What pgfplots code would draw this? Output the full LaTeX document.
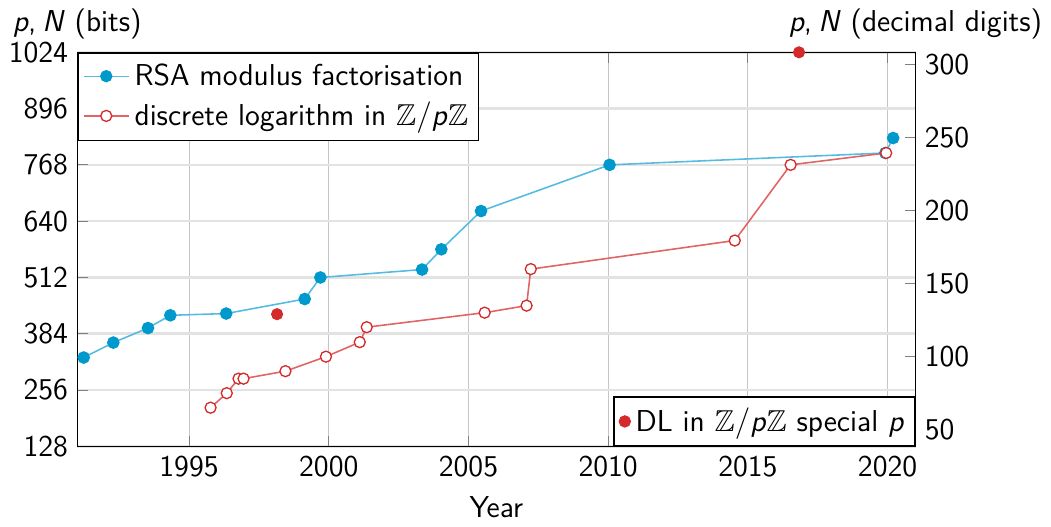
\documentclass[border=0pt]{standalone}
\usepackage{amsmath,amssymb}
\usepackage{pgfplots}
\pgfplotsset{compat=1.18}
\usepackage{xcolor}
\renewcommand{\familydefault}{\sfdefault}
\definecolor{rsadot}{HTML}{0099CC}
\definecolor{rsaline}{HTML}{55BBE0}
\definecolor{dldot}{HTML}{D42A2A}
\definecolor{dlline}{HTML}{E06464}
\newcommand{\ZpZ}{\(\mathbb{Z}/\)\textit{p}\(\mathbb{Z}\)}
\newcommand{\pN}{\textit{p},\kern0.2em\textit{N}}

\begin{document}
\begin{tikzpicture}
\pgfplotsset{
  common/.style={
    scale only axis,
    width=319pt, height=150pt,
    xmin=1991, xmax=2021,
    font=\fontsize{11.5}{13.5}\selectfont,
    /pgf/number format/assume math mode=true,
    /pgf/number format/1000 sep={},
    tick style={gray, thin},
    major tick length=4pt,
  },
}
\begin{axis}[
    common,
    ymin=128, ymax=1024,
    ytick={128,256,384,512,640,768,896,1024},
    xtick={1995,2000,2005,2010,2015,2020},
    ytick pos=left,
    xmajorgrids, ymajorgrids,
    x grid style={gray!45, line width=0.4pt},
    y grid style={gray!22, line width=1pt},
    xlabel={Year},
    xlabel style={yshift=-0.5pt},
    ylabel={\pN{} (bits)},
    every axis y label/.style={at={(rel axis cs:0,1)}, anchor=south, yshift=1.5pt},
    legend style={at={(0,1)}, anchor=north west, draw=black, line width=0.5pt,
      legend cell align=left, inner sep=2pt, row sep=1pt},
    legend image post style={line width=0.5pt},
]
\addplot[rsaline, line width=0.6pt, mark=*, mark size=2.1pt,
  mark options={draw=rsadot, fill=rsadot}] coordinates {
  (1991.23,330)(1992.29,364)(1993.53,397)(1994.33,426)(1996.33,430)
  (1999.14,463)(1999.70,512)(2003.34,530)(2004.03,576)(2005.45,663)
  (2010.05,768)(2019.92,795)(2020.20,829)
};
\addlegendentry{RSA modulus factorisation}
\addplot[dlline, line width=0.6pt, mark=*, mark size=2.1pt,
  mark options={draw=dldot, fill=white, line width=0.5pt}] coordinates {
  (1995.77,216)(1996.35,249)(1996.77,282)(1996.95,282)(1998.45,299)
  (1999.90,332)(2001.11,365)(2001.36,399)(2005.58,432)(2007.08,448)
  (2007.23,531)(2014.53,596)(2016.53,768)(2019.95,795)
};
\addlegendentry{discrete logarithm in \ZpZ}
\end{axis}
\begin{axis}[
    common,
    ymin=38.531, ymax=308.25,
    axis x line=none,
    axis y line*=right,
    ytick={50,100,150,200,250,300},
    ytick pos=right,
    yticklabel pos=right,
    ylabel={\pN{} (decimal digits)},
    every axis y label/.style={at={(rel axis cs:1,1)}, anchor=south, yshift=1.5pt},
    clip=false,
    legend style={at={(1,0)}, anchor=south east, draw=black, line width=0.5pt,
      inner sep=2pt},
]
\addplot[only marks, mark=*, mark size=2.1pt, draw=dldot, fill=dldot] coordinates {
  (1998.15,129)(2016.83,308.2)
};
\addlegendentry{DL in \ZpZ{} special \textit{p}}
\end{axis}
\end{tikzpicture}
\end{document}
